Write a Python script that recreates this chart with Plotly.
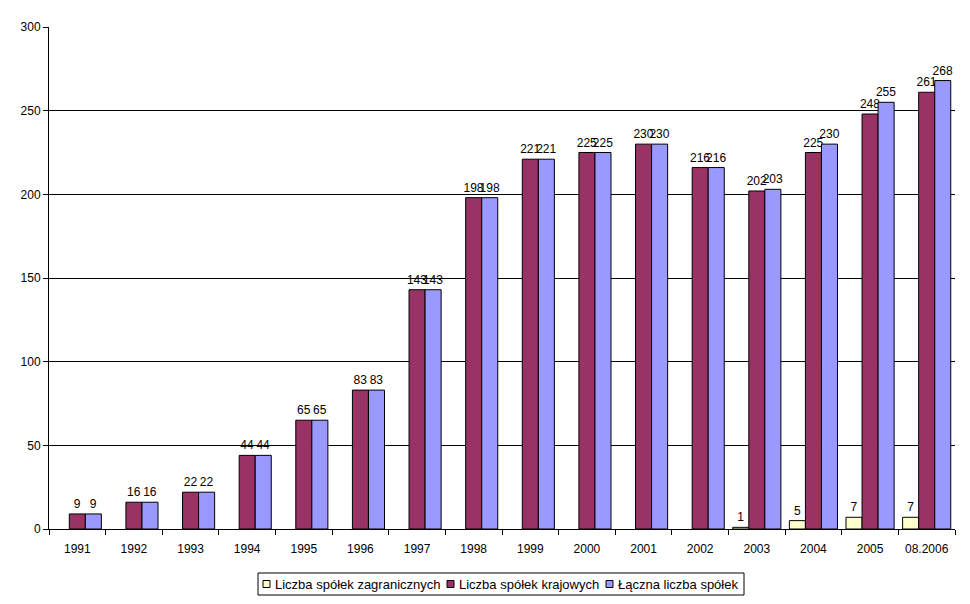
import plotly.graph_objects as go

categories = ["1991", "1992", "1993", "1994", "1995", "1996", "1997", "1998",
              "1999", "2000", "2001", "2002", "2003", "2004", "2005", "08.2006"]
foreign = [0, 0, 0, 0, 0, 0, 0, 0, 0, 0, 0, 0, 1, 5, 7, 7]
domestic = [9, 16, 22, 44, 65, 83, 143, 198, 221, 225, 230, 216, 202, 225, 248, 261]
total = [9, 16, 22, 44, 65, 83, 143, 198, 221, 225, 230, 216, 203, 230, 255, 268]

names = ["Liczba spółek zagranicznych", "Liczba spółek krajowych", "Łączna liczba spółek"]
colors = ["#FFFFCC", "#993366", "#9999FF"]

font = dict(family="Liberation Sans, Arial, sans-serif", size=12, color="black")
legend_font = dict(family="Liberation Sans, Arial, sans-serif", size=13, color="black")

W, H = 970, 604
L, R, T, B = 49, 15, 27, 75
pw, ph = W - L - R, H - T - B


def px_x(x):
    return (x - L) / pw


def px_y(y):
    return (H - B - y) / ph


fig = go.Figure()
for vals, name, col in zip([foreign, domestic, total], names, colors):
    fig.add_trace(go.Bar(
        x=categories, y=[v if v else None for v in vals], name=name,
        marker=dict(color=col, line=dict(color="black", width=1)),
        text=[str(v) if v else "" for v in vals],
        textposition="outside", textfont=font, constraintext="none",
        cliponaxis=False, showlegend=False,
    ))

# custom legend (Excel-style compact)
shapes = [dict(type="rect", xref="paper", yref="paper",
               x0=px_x(258), x1=px_x(744), y0=px_y(573), y1=px_y(595),
               line=dict(color="black", width=1), fillcolor="white")]
annotations = []
sq_x = [263, 447, 606]
for sx, name, col in zip(sq_x, names, colors):
    shapes.append(dict(type="rect", xref="paper", yref="paper",
                       x0=px_x(sx), x1=px_x(sx + 7), y0=px_y(580.5), y1=px_y(587.5),
                       line=dict(color="black", width=1), fillcolor=col))
    annotations.append(dict(xref="paper", yref="paper", x=px_x(sx + 10), y=px_y(584),
                            text=name, showarrow=False, xanchor="left", yanchor="middle",
                            font=legend_font))

fig.update_layout(
    width=W, height=H,
    margin=dict(l=L, r=R, t=T, b=B, autoexpand=False),
    paper_bgcolor="white", plot_bgcolor="white",
    barmode="group", bargap=0.15, bargroupgap=0,
    font=font,
    showlegend=False,
    shapes=shapes, annotations=annotations,
    xaxis=dict(type="category", showline=True, linecolor="black", linewidth=1,
               ticks="outside", tickson="boundaries", ticklen=5, tickcolor="black",
               showgrid=False, tickfont=font, automargin=False, ticklabelstandoff=9),
    yaxis=dict(range=[0, 300], dtick=50, showline=True, linecolor="black", linewidth=1,
               ticks="outside", ticklen=5, tickcolor="black",
               showgrid=True, gridcolor="black", gridwidth=1, zeroline=False,
               tickfont=font, automargin=False),
)

fig.write_html("out.html", config={"displayModeBar": False},
               post_script="document.body.style.margin='0';")
